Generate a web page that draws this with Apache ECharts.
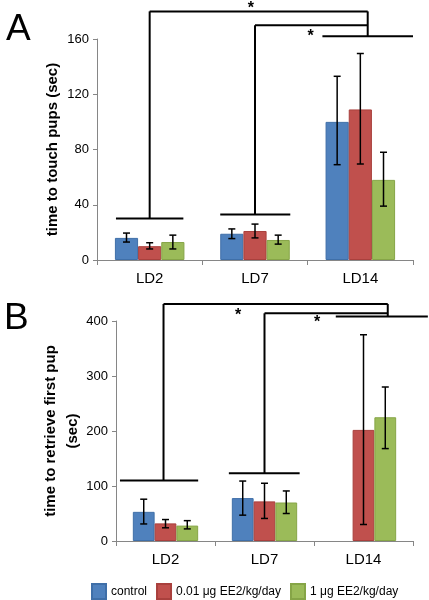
<!DOCTYPE html>
<html><head><meta charset="utf-8">
<script src="https://cdn.jsdelivr.net/npm/echarts@6/dist/echarts.min.js"></script>
<style>html,body{margin:0;padding:0;background:#fff}#c{width:429px;height:600px}</style>
</head><body><div id="c"></div>
<script>
// ---- data ----
var categories = ['LD2', 'LD7', 'LD14'];
var seriesNames = ['control', '0.01 \u03bcg EE2/kg/day', '1 \u03bcg EE2/kg/day'];
var colors = ['#4f81bd', '#c0504d', '#9bbb59'];
var borderColors = ['#3f6fa8', '#a9403d', '#86a547'];

// Panel A: time to touch pups (sec)
var touchControl = [16, 19, 100];
var touchLow = [10, 21, 109];
var touchHigh = [13, 14.5, 58];
var touchControlErr = [[13, 19.5], [15.5, 22.5], [69, 133]];
var touchLowErr = [[8, 12.5], [16, 26], [69.5, 149.5]];
var touchHighErr = [[8, 18], [11.5, 18], [39, 78]];
var touchTicks = [0, 40, 80, 120, 160];

// Panel B: time to retrieve first pup (sec)
var retrControl = [53, 78, null];
var retrLow = [32, 72, 202];
var retrHigh = [28, 70, 225];
var retrControlErr = [[31, 76], [47, 109], null];
var retrLowErr = [[24, 39], [41, 105], [30, 375]];
var retrHighErr = [[22, 37], [50, 91], [168, 280]];
var retrTicks = [0, 100, 200, 300, 400];

// significance brackets: [x1, y1, x2, y2], x in category units (0 = LD2 centre), y in axis values
var bracketsA = [
  [-0.32, 30, 0.32, 30], [0, 30, 0, 180], [0, 180, 2.07, 180], [2.07, 180, 2.07, 162],
  [0.67, 33, 1.335, 33], [1, 33, 1, 170], [1, 170, 2.07, 170],
  [1.64, 162, 2.5, 162]
];
var starsA = [[0.96, 185], [1.527, 165]];
var bracketsB = [
  [-0.46, 110, 0.33, 110], [-0.02, 110, -0.02, 431], [-0.02, 431, 2.245, 431], [2.245, 431, 2.245, 408],
  [0.64, 123, 1.355, 123], [1, 123, 1, 414], [1, 414, 2.245, 414],
  [1.72, 408, 2.65, 408]
];
var starsB = [[0.734, 417], [1.532, 405]];

var GAP = 0.34;
var FONT = '"Liberation Sans", Arial, sans-serif';

function errSeries(errs, idx, gi) {
  var data = [];
  errs.forEach(function (e, c) { if (e) data.push([c, e[0], e[1]]); });
  return {
    type: 'custom', xAxisIndex: gi, yAxisIndex: gi, silent: true, z: 5,
    encode: { x: 0, y: [1, 2] },
    data: data,
    renderItem: function (params, api) {
      var c = api.value(0);
      var lo = api.coord([c, api.value(1)]);
      var hi = api.coord([c, api.value(2)]);
      var band = api.size([1, 0])[0];
      var bw = band * (1 - GAP) / 3;
      var x = lo[0] + (idx - 1) * bw;
      var cap = 3.5;
      var st = { stroke: '#000', lineWidth: 1.5 };
      return { type: 'group', children: [
        { type: 'line', shape: { x1: x, y1: lo[1], x2: x, y2: hi[1] }, style: st },
        { type: 'line', shape: { x1: x - cap, y1: lo[1], x2: x + cap, y2: lo[1] }, style: st },
        { type: 'line', shape: { x1: x - cap, y1: hi[1], x2: x + cap, y2: hi[1] }, style: st }
      ]};
    }
  };
}

function bracketSeries(segs, gi) {
  return {
    type: 'custom', xAxisIndex: gi, yAxisIndex: gi, silent: true, z: 6, clip: false,
    encode: { x: -1, y: -1 },
    data: segs.map(function (s) { return [s[0], s[1], s[2], s[3]]; }),
    renderItem: function (params, api) {
      var band = api.size([1, 0])[0];
      var p1 = api.coord([0, api.value(1)]);
      var p2 = api.coord([0, api.value(3)]);
      return { type: 'line',
        shape: { x1: p1[0] + api.value(0) * band, y1: p1[1], x2: p2[0] + api.value(2) * band, y2: p2[1] },
        style: { stroke: '#000', lineWidth: 2 } };
    }
  };
}

function starSeries(stars, gi) {
  return {
    type: 'custom', xAxisIndex: gi, yAxisIndex: gi, silent: true, z: 7, clip: false,
    encode: { x: -1, y: -1 },
    data: stars,
    renderItem: function (params, api) {
      var band = api.size([1, 0])[0];
      var p = api.coord([0, api.value(1)]);
      return { type: 'text', x: p[0] + api.value(0) * band, y: p[1] + 4,
        style: { text: '*', font: 'bold 16px ' + FONT, fill: '#000', align: 'center', verticalAlign: 'middle' } };
    }
  };
}

function barSeries(name, data, idx, gi) {
  return {
    name: name, type: 'bar', xAxisIndex: gi, yAxisIndex: gi,
    data: data.map(function (v) { return v === null ? '-' : v; }),
    barGap: '0%', barCategoryGap: (GAP * 100) + '%',
    itemStyle: { color: colors[idx], borderColor: borderColors[idx], borderWidth: 1 },
    emphasis: { disabled: true }
  };
}

var axisLineStyle = { color: '#868686', width: 1 };
function xAxis(gi) {
  return {
    type: 'category', gridIndex: gi, data: categories,
    axisLine: { lineStyle: axisLineStyle },
    axisTick: { show: true, length: 5, lineStyle: axisLineStyle },
    axisLabel: { color: '#000', fontSize: 15, fontFamily: FONT, margin: 11 }
  };
}
function yAxis(gi, ticks, name, gap, lh) {
  return {
    type: 'value', gridIndex: gi, min: ticks[0], max: ticks[ticks.length - 1],
    interval: ticks[1] - ticks[0],
    splitLine: { show: false },
    axisLine: { show: true, lineStyle: axisLineStyle },
    axisTick: { show: true, length: 4, lineStyle: axisLineStyle },
    axisLabel: { color: '#000', fontSize: 13, fontFamily: FONT, margin: 8 },
    name: name, nameLocation: 'middle', nameGap: gap, nameMoveOverlap: false,
    nameTextStyle: { color: '#000', fontSize: 15, fontWeight: 'bold', fontFamily: FONT, lineHeight: lh }
  };
}

var chart = echarts.init(document.getElementById('c'));
chart.setOption({
  animation: false,
  backgroundColor: '#fff',
  grid: [
    { left: 97, right: 16, top: 39, height: 221 },
    { left: 116, right: 16, top: 321, height: 220 }
  ],
  xAxis: [xAxis(0), xAxis(1)],
  yAxis: [
    yAxis(0, touchTicks, 'time to touch pups (sec)', 35, 18),
    yAxis(1, retrTicks, 'time to retrieve first pup\n(sec)', 32, 22)
  ],
  legend: {
    left: 86, top: 578, itemWidth: 14, itemHeight: 15, itemGap: 9,
    icon: 'rect',
    textStyle: { color: '#000', fontSize: 12, fontFamily: FONT },
    data: seriesNames, selectedMode: false
  },
  graphic: [
    { type: 'text', left: 6, top: 11, style: { text: 'A', font: '37px ' + FONT, fill: '#000' } },
    { type: 'text', left: 4, top: 300, style: { text: 'B', font: '37px ' + FONT, fill: '#000' } }
  ],
  series: [
    barSeries(seriesNames[0], touchControl, 0, 0),
    barSeries(seriesNames[1], touchLow, 1, 0),
    barSeries(seriesNames[2], touchHigh, 2, 0),
    errSeries(touchControlErr, 0, 0),
    errSeries(touchLowErr, 1, 0),
    errSeries(touchHighErr, 2, 0),
    bracketSeries(bracketsA, 0),
    starSeries(starsA, 0),
    barSeries(seriesNames[0], retrControl, 0, 1),
    barSeries(seriesNames[1], retrLow, 1, 1),
    barSeries(seriesNames[2], retrHigh, 2, 1),
    errSeries(retrControlErr, 0, 1),
    errSeries(retrLowErr, 1, 1),
    errSeries(retrHighErr, 2, 1),
    bracketSeries(bracketsB, 1),
    starSeries(starsB, 1)
  ]
});
</script></body></html>
